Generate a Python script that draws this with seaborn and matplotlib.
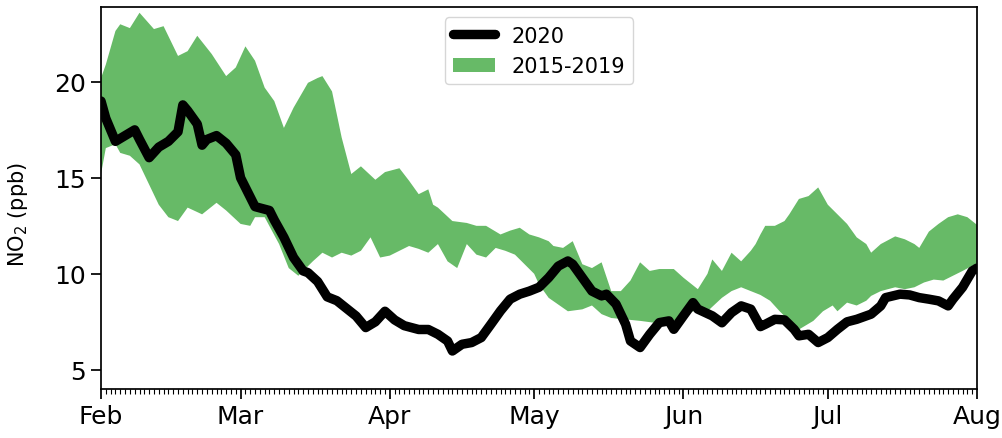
import numpy as np
import pandas as pd
import matplotlib
matplotlib.use("Agg")
import matplotlib.pyplot as plt
import matplotlib.dates as mdates
import seaborn as sns

# Period shown: 1 Feb to 1 Aug 2020; positions are days since 1 Feb
start = pd.Timestamp("2020-02-01")
end = pd.Timestamp("2020-08-01")

# 2020 NO2 (ppb)
no2_2020_day = [0, 1, 3, 5, 7, 8, 10, 12, 14, 16, 17, 18, 20, 21, 22, 24, 26, 28, 29, 31,
                32, 35, 36, 38, 40, 42, 43, 45, 47, 49, 51, 53, 55, 57, 59, 61, 63, 66, 68, 70,
                72, 73, 75, 77, 79, 81, 83, 85, 87, 89, 91, 93, 95, 97, 98, 100, 102, 104, 105, 107,
                109, 110, 112, 114, 116, 118, 119, 121, 123, 124, 127, 129, 131, 133, 135, 137, 138, 140, 142, 144,
                145, 147, 149, 151, 153, 155, 157, 160, 162, 163, 166, 168, 170, 172, 174, 176, 177, 179, 181, 182]
no2_2020 = [19.0, 18.1, 16.9, 17.2, 17.5, 17.0, 16.05, 16.6, 16.9, 17.4, 18.8, 18.5, 17.8, 16.7, 17.0, 17.2, 16.8, 16.2, 15.0, 14.0,
            13.5, 13.3, 12.8, 11.9, 10.85, 10.15, 10.06, 9.6, 8.8, 8.6, 8.2, 7.8, 7.2, 7.5, 8.05, 7.6, 7.3, 7.1, 7.1, 6.85,
            6.5, 5.98, 6.33, 6.42, 6.68, 7.37, 8.07, 8.68, 8.94, 9.1, 9.3, 9.8, 10.4, 10.67, 10.5, 9.8, 9.1, 8.85, 8.94, 8.42,
            7.37, 6.5, 6.16, 6.85, 7.46, 7.55, 7.11, 7.81, 8.5, 8.16, 7.81, 7.45, 7.98, 8.33, 8.16, 7.25, 7.37, 7.63, 7.6, 7.11,
            6.77, 6.85, 6.42, 6.68, 7.11, 7.5, 7.63, 7.9, 8.33, 8.76, 8.94, 8.9, 8.76, 8.68, 8.59, 8.33, 8.68, 9.3, 10.15, 10.3]

# 2015-2019 range: upper envelope
hist_upper_day = [0, 1, 3, 4, 6, 8, 11, 13, 16, 18, 20, 23, 26, 28, 30, 32, 34, 36, 38, 40,
                  43, 45, 46, 48, 50, 52, 54, 57, 59, 62, 64, 66, 68, 69, 70, 73, 76, 78, 80, 83,
                  85, 87, 89, 91, 93, 94, 96, 98, 100, 102, 104, 106, 108, 110, 112, 114, 116, 119, 121, 124,
                  126, 127, 129, 131, 133, 135, 136, 137, 138, 140, 142, 143, 145, 147, 149, 151, 153, 155, 157, 159,
                  160, 162, 165, 167, 169, 170, 172, 174, 176, 178, 180, 182]
hist_upper = [20.2, 20.9, 22.65, 23.0, 22.8, 23.6, 22.75, 22.9, 21.35, 21.6, 22.4, 21.45, 20.3, 20.75, 21.85, 21.1, 19.7, 19.0, 17.6, 18.65,
              19.95, 20.2, 20.3, 19.5, 17.1, 15.2, 15.6, 14.9, 15.3, 15.5, 14.85, 14.15, 14.4, 13.6, 13.45, 12.75, 12.65, 12.5, 12.5, 12.05,
              12.25, 12.4, 12.05, 11.9, 11.7, 11.45, 11.35, 11.7, 10.5, 10.3, 10.6, 9.1, 9.1, 9.65, 10.6, 10.15, 10.25, 10.25, 9.8, 9.2,
              10.0, 10.75, 10.15, 11.1, 10.65, 11.2, 11.55, 12.05, 12.5, 12.5, 12.75, 13.1, 13.9, 14.05, 14.5, 13.6, 13.1, 12.6, 11.9, 11.55,
              11.1, 11.55, 11.95, 11.8, 11.55, 11.35, 12.2, 12.6, 12.95, 13.1, 12.95, 12.55]

# 2015-2019 range: lower envelope
hist_lower_day = [0, 1, 3, 4, 6, 8, 10, 12, 14, 16, 18, 21, 24, 26, 29, 31, 32, 34, 37, 39,
                  41, 44, 46, 48, 50, 52, 54, 56, 58, 60, 62, 64, 66, 68, 70, 72, 74, 76, 78, 80,
                  82, 84, 86, 88, 90, 91, 93, 95, 97, 100, 102, 104, 106, 108, 112, 115, 117, 119, 123, 126,
                  129, 131, 133, 135, 137, 139, 141, 143, 145, 148, 150, 152, 153, 155, 157, 159, 160, 162, 165, 167,
                  169, 171, 173, 175, 177, 179, 182]
hist_lower = [15.2, 16.55, 16.75, 16.3, 16.15, 15.7, 14.65, 13.6, 12.95, 12.75, 13.45, 13.1, 13.7, 13.3, 12.6, 12.5, 12.95, 12.95, 11.55, 10.3,
              9.9, 10.65, 11.1, 10.85, 11.1, 10.95, 11.2, 11.9, 10.85, 10.95, 11.2, 11.45, 11.3, 11.1, 11.55, 10.65, 10.3, 11.55, 11.0, 10.85,
              11.35, 11.2, 11.0, 10.5, 10.0, 9.45, 8.75, 8.4, 8.05, 8.15, 8.35, 7.9, 7.7, 7.65, 7.55, 7.45, 7.55, 7.55, 8.05, 8.05,
              8.75, 9.1, 9.3, 9.1, 8.9, 8.6, 8.05, 7.55, 7.1, 7.55, 8.05, 8.35, 8.05, 8.5, 8.35, 8.6, 8.85, 9.1, 9.3, 9.2,
              9.3, 9.55, 9.7, 9.65, 9.9, 10.15, 10.55]

month_ticks = pd.date_range(start, end, freq="MS")
y_ticks = [5, 10, 15, 20]


def to_dates(days):
    return (start + pd.to_timedelta(days, unit="D")).to_numpy()


sns.set_style("ticks")
plt.rcParams["font.family"] = ["DejaVu Sans"]
plt.rcParams["text.color"] = "black"
plt.rcParams["axes.labelcolor"] = "black"
plt.rcParams["xtick.color"] = "black"
plt.rcParams["ytick.color"] = "black"

fig = plt.figure(figsize=(10.03, 4.39), dpi=100)
ax = fig.add_axes([0.1007, 0.1116, 0.8734, 0.8702])

df = pd.DataFrame({"date": to_dates(no2_2020_day), "no2": no2_2020})
sns.lineplot(data=df, x="date", y="no2", color="black", linewidth=6.8,
             ax=ax, legend=False, zorder=3)
line = ax.get_lines()[0]

# range envelope drawn as one polygon: upper edge forward, lower edge back
band_x = np.concatenate([to_dates(hist_upper_day), to_dates(hist_lower_day)[::-1]])
band_y = np.concatenate([hist_upper, hist_lower[::-1]])
band = ax.fill(band_x, band_y, color="tab:green", alpha=0.72, linewidth=0, zorder=1)[0]

ax.set_xlim(start, end)
ax.set_ylim(4, 23.9)
ax.set_yticks(y_ticks)
ax.set_xticks(month_ticks)
ax.xaxis.set_major_formatter(mdates.DateFormatter("%b"))
ax.xaxis.set_minor_locator(mdates.DayLocator())

ax.tick_params(axis="both", which="major", labelsize=18, length=7, width=1.25, pad=4)
ax.tick_params(axis="x", which="minor", length=3.5, width=0.8)
ax.tick_params(axis="y", which="minor", left=False)
for sp in ax.spines.values():
    sp.set_color("black")
    sp.set_linewidth(1.25)

ax.set_xlabel("")
ax.set_ylabel("NO$_2$ (ppb)", fontsize=15)
ax.yaxis.set_label_coords(-0.081, 0.46)

ax.legend([line, band], ["2020", "2015-2019"], loc="upper center", fontsize=15)

fig.savefig("out.png", dpi=100)
